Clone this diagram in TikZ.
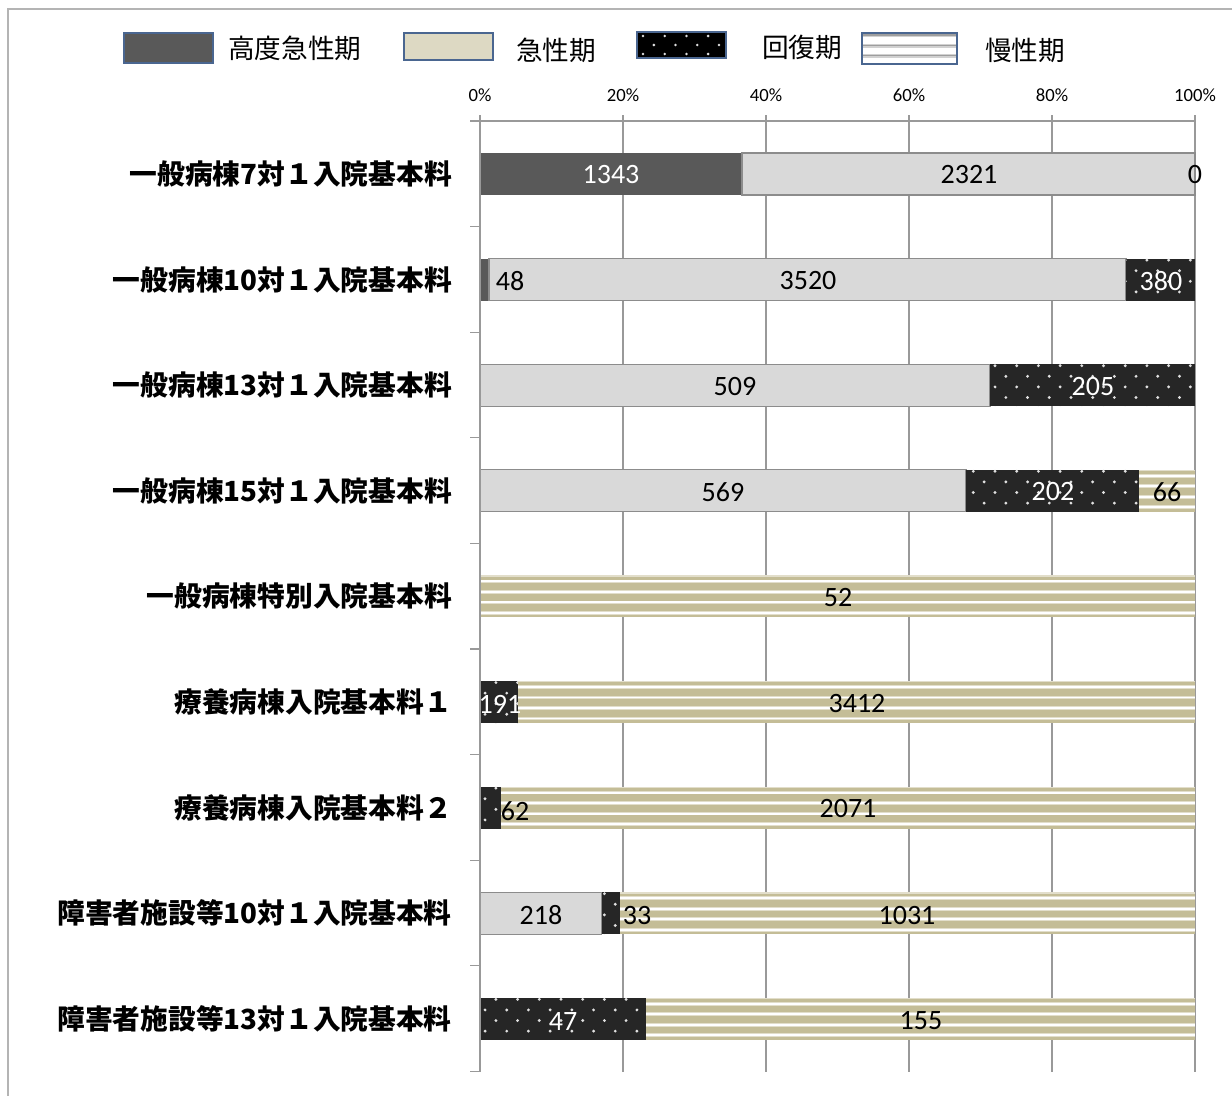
\documentclass[tikz,border=0pt]{standalone}
\usepackage{fontspec}
\setmainfont{Carlito}
\newfontfamily\cjk{Noto Sans CJK JP}
\definecolor{hacol}{HTML}{595959}
\definecolor{acucol}{HTML}{D9D9D9}
\definecolor{acuedge}{HTML}{8C8C8C}
\definecolor{reccol}{HTML}{262626}
\definecolor{dotcol}{HTML}{E0E0E0}
\definecolor{chrcol}{HTML}{C4BD97}
\definecolor{chrlight}{HTML}{E2DECB}
\definecolor{legacu}{HTML}{DDD9C3}
\definecolor{legedge}{HTML}{4A6690}
\definecolor{gridcol}{HTML}{999999}
\definecolor{framecol}{HTML}{B4B4B4}
\newcommand\recseg[4]{%
  \begin{scope}
    \clip (#1,#3) rectangle (#2,#4);
    \fill[reccol] (#1,#3) rectangle (#2,#4);
    \foreach \r in {0,...,4}{%
      \foreach \c in {-1,...,34}{%
        \fill[dotcol] ({495.9+21.7*\c+10.85*mod(\r,2)},{#3+1.5+10.6*\r}) circle (1.6);
      }%
    }%
  \end{scope}}
\newcommand\chrseg[4]{%
  \fill[chrcol] (#1,#3) rectangle (#2,#4);
  \draw[chrlight,line width=1pt] (#1,#3+0.7) -- (#2,#3+0.7);
  \foreach \o in {6,16.5,27,37.5}{%
    \draw[chrlight,line width=2.8pt] (#1,#3+\o) -- (#2,#3+\o);
    \draw[white,line width=1.4pt] (#1,#3+\o) -- (#2,#3+\o);
  }}
\newcommand\acuseg[4]{%
  \filldraw[fill=acucol,draw=acuedge,line width=0.9pt] (#1,#3) rectangle (#2,#4);}
\newcommand\haseg[4]{%
  \fill[hacol] (#1,#3) rectangle (#2,#4);}
\begin{document}
\begin{tikzpicture}[x=0.75pt,y=-0.75pt,
  catlab/.style={font=\cjk\bfseries\fontsize{20.8}{21}\selectfont,anchor=east,inner sep=0pt},
  vallab/.style={font=\fontsize{21}{21}\selectfont,inner sep=0pt},
  vallabw/.style={vallab,text=white},
  ticklab/.style={font=\fontsize{14}{14}\selectfont,inner sep=0pt},
  leglab/.style={font=\cjk\fontsize{20}{20}\selectfont,anchor=west,inner sep=0pt},
  gridline/.style={draw=gridcol,line width=0.8pt},
  swatch/.style={draw=legedge,line width=1pt}]
\useasboundingbox (0,0) rectangle (1232,1096);
\fill[white] (0,0) rectangle (1232,1096);
% outer frame
\draw[framecol,line width=1.3pt] (8,1100) -- (8,9) -- (1240,9);

% legend
\fill[hacol] (124,33) rectangle (213,63);
\draw[swatch] (124,33) rectangle (213,63);
\node[leglab] (l1) at (228,48) {高度急性期};
\fill[legacu] (404,33) rectangle (493,60);
\draw[swatch] (404,33) rectangle (493,60);
\node[leglab] (l2) at (516,50) {急性期};
\begin{scope}
  \clip (637,32) rectangle (726,58);
  \fill[black] (637,32) rectangle (726,58);
  \foreach \r in {0,...,2}{\foreach \c in {0,...,4}{%
    \fill[dotcol] ({643+21.7*\c+10.85*mod(\r,2)},{36+9*\r}) circle (1.4);}}
\end{scope}
\draw[swatch] (637,32) rectangle (726,58);
\node[leglab] (l3) at (762,47) {回復期};
\fill[white] (862,33) rectangle (957,64);
\foreach \o in {2,12.5,22.5}{%
  \draw[black!18,line width=3pt] (862,33+\o) -- (957,33+\o);
  \draw[black!38,line width=1.2pt] (862,33+\o) -- (957,33+\o);}
\draw[swatch] (862,33) rectangle (957,64);
\node[leglab] (l4) at (985,50) {慢性期};

% axis tick labels
\foreach \p/\xx in {0/480,20/623,40/766,60/909,80/1052,100/1195}{%
  \node[ticklab] (t\p) at (\xx,95) {\p\%};
  \draw[gridline] (\xx,121) -- (\xx,1072);
  \draw[gridline] (\xx,115) -- (\xx,121);}
\draw[gridline] (480,121) -- (1195,121);
\foreach \k in {0,...,9}{\draw[gridline] (470,121+105.6*\k) -- (480,121+105.6*\k);}

% bars
% row 1
\haseg{480}{742}{153}{195}
\acuseg{742}{1195}{153}{195}
% row 2
\haseg{480}{489}{258.6}{300.6}
\acuseg{489}{1126}{258.6}{300.6}
\recseg{1126}{1195}{258.6}{300.6}
% row 3
\acuseg{480}{990}{364.2}{406.2}
\recseg{990}{1195}{364.2}{406.2}
% row 4
\acuseg{480}{966}{469.8}{511.8}
\recseg{966}{1139}{469.8}{511.8}
\chrseg{1139}{1195}{469.8}{511.8}
% row 5
\chrseg{480}{1195}{575.4}{617.4}
% row 6
\recseg{480}{518}{681}{723}
\chrseg{518}{1195}{681}{723}
% row 7
\recseg{480}{501}{786.6}{828.6}
\chrseg{501}{1195}{786.6}{828.6}
% row 8
\acuseg{480}{601.6}{892.2}{934.2}
\recseg{601.6}{620}{892.2}{934.2}
\chrseg{620}{1195}{892.2}{934.2}
% row 9
\recseg{480}{646}{997.8}{1039.8}
\chrseg{646}{1195}{997.8}{1039.8}
\draw[gridline] (480,121) -- (480,1072);

% category labels
\node[catlab] (c1) at (452,174) {一般病棟7対１入院基本料};
\node[catlab] (c2) at (452,279.6) {一般病棟10対１入院基本料};
\node[catlab] (c3) at (452,385.2) {一般病棟13対１入院基本料};
\node[catlab] (c4) at (452,490.8) {一般病棟15対１入院基本料};
\node[catlab] (c5) at (452,596.4) {一般病棟特別入院基本料};
\node[catlab] (c6) at (452,702) {療養病棟入院基本料１};
\node[catlab] (c7) at (452,807.6) {療養病棟入院基本料２};
\node[catlab] (c8) at (452,913.2) {障害者施設等10対１入院基本料};
\node[catlab] (c9) at (452,1018.8) {障害者施設等13対１入院基本料};

% value labels
\node[vallabw] (v11) at (611,175) {1343};
\node[vallab] (v12) at (969,175) {2321};
\node[vallab] (v13) at (1195,175) {0};
\node[vallab] (v21) at (510,281) {48};
\node[vallab] (v22) at (808,281) {3520};
\node[vallabw] (v23) at (1161,281) {380};
\node[vallab] (v31) at (735,387) {509};
\node[vallabw] (v32) at (1093,387) {205};
\node[vallab] (v41) at (723,492) {569};
\node[vallabw] (v42) at (1053,492) {202};
\node[vallab] (v43) at (1167,492) {66};
\node[vallab] (v51) at (838,598) {52};
\node[vallabw] (v61) at (500,704) {191};
\node[vallab] (v62) at (857,704) {3412};
\node[vallab] (v71) at (515,811) {62};
\node[vallab] (v72) at (848,809) {2071};
\node[vallab] (v81) at (541,915) {218};
\node[vallab] (v82) at (637,915) {33};
\node[vallab] (v83) at (907,915) {1031};
\node[vallabw] (v91) at (563,1021) {47};
\node[vallab] (v92) at (921,1021) {155};
\end{tikzpicture}
\end{document}
